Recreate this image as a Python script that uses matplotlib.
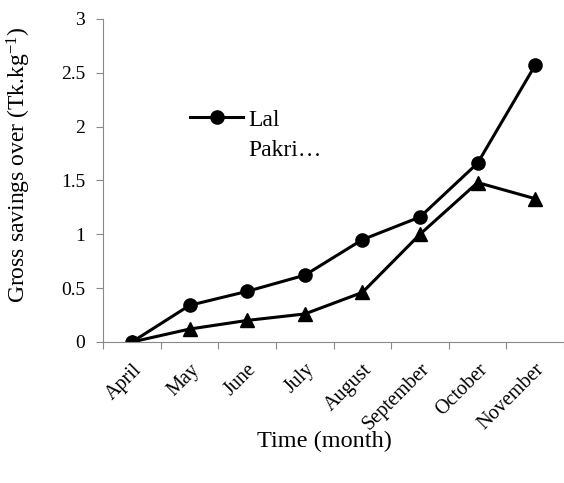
import numpy as np
import matplotlib.pyplot as plt

plt.rcParams['font.family'] = ['Liberation Serif', 'DejaVu Serif']
plt.rcParams['mathtext.fontset'] = 'custom'
plt.rcParams['mathtext.rm'] = 'Liberation Serif'
plt.rcParams['mathtext.it'] = 'Liberation Serif:italic'

mesi = ['April', 'May', 'June', 'July', 'August', 'September', 'October', 'November']
lal_pakri = [0.0, 0.34, 0.47, 0.62, 0.95, 1.16, 1.66, 2.57]
altra = [0.0, 0.12, 0.20, 0.26, 0.46, 1.00, 1.48, 1.33]

fig = plt.figure(figsize=(5.64, 4.83), dpi=100)
ax = fig.add_axes([0.183, 0.292, 0.817, 0.669])

x = np.arange(len(mesi))
ax.plot(x, lal_pakri, color='black', lw=2.2, marker='o', ms=9.5, label='Lal')
ax.plot(x, altra, color='black', lw=2.2, marker='^', ms=9.5)

ax.set_xlim(-0.5, len(mesi) - 0.5)
ax.set_ylim(0, 3)
ax.set_yticks([0, 0.5, 1, 1.5, 2, 2.5, 3])
ax.set_yticklabels(['0', '0.5', '1', '1.5', '2', '2.5', '3'], fontsize=14, family='Liberation Serif')

# tick maggiori ai bordi delle categorie, etichette al centro
ax.set_xticks(np.arange(len(mesi) + 1) - 0.5)
ax.set_xticklabels([])
ax.set_xticks(x, minor=True)
ax.set_xticklabels(mesi, minor=True, rotation=45, ha='right', rotation_mode='anchor',
                   fontsize=14.5, family='Liberation Serif')
ax.tick_params(axis='x', which='minor', length=0, pad=13)
ax.tick_params(axis='x', which='major', length=5, color='#888888')
ax.tick_params(axis='y', length=5, color='#888888', pad=8)

for s in ['top', 'right']:
    ax.spines[s].set_visible(False)
ax.spines['left'].set_color('#888888')
ax.spines['bottom'].set_color('#888888')

ax.set_ylabel('Gross savings over (Tk.kg$^{-1}$)', fontsize=17, family='Liberation Serif')
ax.yaxis.set_label_coords(-0.152, 0.55)
ax.set_xlabel('Time (month)', fontsize=17.5, family='Liberation Serif')
ax.xaxis.set_label_coords(0.48, -0.275)

ax.legend(loc='upper left', bbox_to_anchor=(0.189, 0.721), frameon=False,
          prop={'family': 'Liberation Serif', 'size': 17},
          handlelength=2.25, handletextpad=0.2, borderpad=0, borderaxespad=0)
# seconda riga della voce di legenda (etichetta troncata come nell'originale)
ax.text(0.3145, 0.576, 'Pakri…', transform=ax.transAxes, fontsize=17,
        family='Liberation Serif', va='baseline', ha='left')

fig.savefig('out.png', dpi=100)
